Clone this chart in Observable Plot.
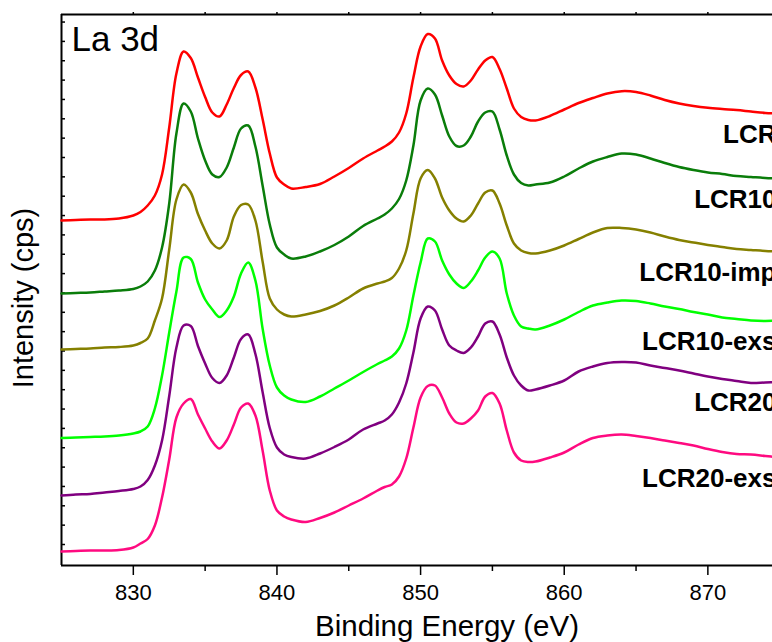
<!DOCTYPE html>
<html><head><meta charset="utf-8">
<script src="https://cdn.jsdelivr.net/npm/d3@7"></script>
<script src="https://cdn.jsdelivr.net/npm/@observablehq/plot@0.6"></script>
<style>body{margin:0;overflow:hidden;background:#fff}</style>
</head><body><div id="chart"></div>
<script>
// Binding energy grid (eV)
const energy = [825,826,827,828,829,830,830.5,831,831.5,832,832.5,833,833.5,834,834.5,835,835.5,836,836.5,837,837.5,838,838.5,839,839.5,840,840.5,841,842,843,844,845,846,847,847.5,848,848.5,849,849.5,850,850.5,851,851.5,852,852.5,853,853.5,854,854.5,855,855.5,856,856.5,857,857.5,858,859,860,861,862,863,864,865,866,867,868,869,870,871,872,873,874,875];

const samples = ["LCR", "LCR10", "LCR10-imp", "LCR10-exs", "LCR20", "LCR20-exs"];
const colors = ["#ff0000", "#0a7d0a", "#858000", "#00ff00", "#800080", "#ff0a80"];

// Offset-stacked intensities (arbitrary cps units)
const lcr = [345,345.5,346,346,347,350,353.5,360,370,391,438,492,514,507.5,488,468.5,453,449,461,477.5,490.5,494,478,446.5,412,388,381,377,378.5,381.5,389,397.5,407,415,419,424,433,452,488,519,531.5,527,505,490,481.5,479,485,496,505,508.5,496.5,477,457,448.5,445.5,445,449.5,456,462.5,467.5,472,474.3,473.5,470,465.5,462,459.5,457.7,456.5,455.5,454,452.6,452];
const lcr10 = [272,272.5,273,274,275,276.5,279,284,295,318,362,432,462,454,427,405,391,388.5,398,418,437,440,419,380,341,318,311,307,309,314,320.5,329,339.5,347,351,357,366.5,385,420,465,477,471,450,429,419.5,420,429,444,453,454,436,410,391,382.5,380,381,383,389,397,404,408.5,412,411,407,402.5,398.5,395.5,393,391.5,389.5,388.5,387.5,387];
const lcr10imp = [216,216.5,217,218,218.5,220,222.5,227,245,267,316,366,381,373,351.5,335,322,317,325,349,360.5,361,345,304,267,256,251,249,251,254.5,260,268,277,282,284,287.5,297,315,352,387,395.5,387,368,355,347,344,350,362,373,375,362,340,322,315,312.5,312,315,320,326.5,333,337.5,337.5,336,333,329,325.5,323,320.5,318.5,316.5,315.5,314.5,314];
const lcr10exs = [127.5,128,128.5,129,130,132,134,139,157,190,233,274,308,306.5,283,266,256,248.5,255,269,292,303,285,237,200,178,170,166,163.5,169,177,185,193.5,201.5,205,209,217,235,270,303,327,324,305,291,282,277.5,284,295,308,314,307,272,250,239,237,236,240,246,253.5,260,263,265,264.5,262,259,256.5,253.5,251,248,246.5,245,244.5,245];
const lcr20 = [70,71,71.5,73,74.5,76.5,79,85.5,100,125,169.5,218,240,239.5,219.5,202,187.5,182.5,190,208,226.5,231,211.5,173.5,137.5,118,111,108.5,107,112,118.5,126,136,142,145,151,163,182,213,247,259,255,236,220,215,212.5,218,229,242,244,231,208,190,180,175,176,180,185,194,199,202.5,203.5,203,200,197.5,195,192,189,186.5,184.5,182.5,183,183.5];
const lcr20exs = [14,14.5,15,15,15.5,18,22,26.5,40,68,106,148,162,166.5,151,137,124,117,125,141,158,162,150,115,75,55,49,46,43.5,47.5,53,60,67,75,78.5,81,89,107,138,168,179.5,180,168,152,143,142,147,155,169,172.5,162,135,113,105,103.5,104,108,113,121,127.5,130,131,129.5,127.5,125,122.5,120,116.5,113.5,111.5,111,109.5,108];

const xMajorTicks = [830, 840, 850, 860, 870];
const xMinorTicks = [835, 845, 855, 865];
const xDomain = [825, 874.5];
const yDomain = [0, 551];
const yTicks = d3.range(21, 551, 19.35);

const series = [lcr, lcr10, lcr10imp, lcr10exs, lcr20, lcr20exs];
const rows = samples.flatMap((s, i) => energy.map((e, j) => ({sample: s, energy: e, intensity: series[i][j]})));
const ends = samples.map((s, i) => ({sample: s, intensity: series[i][series[i].length - 1]}));

const plot = Plot.plot({
  width: 772, height: 642,
  marginLeft: 61, marginRight: 0, marginTop: 14, marginBottom: 77,
  style: {fontFamily: "'Liberation Sans', Arial, sans-serif", fontSize: "22px", color: "#000", background: "#fff"},
  x: {domain: xDomain},
  y: {domain: yDomain},
  color: {domain: samples, range: colors},
  marks: [
    Plot.axisX({ticks: xMajorTicks, tickSize: 10, tickPadding: 9, strokeWidth: 1.5, label: null, fontSize: 22}),
    Plot.axisX({ticks: xMinorTicks, tickSize: 6, tickFormat: () => "", strokeWidth: 1.5, label: null}),
    Plot.axisX({anchor: "top", ticks: [...xMajorTicks, ...xMinorTicks], tickSize: 3, tickFormat: () => "", strokeWidth: 1.5, label: null}),
    Plot.axisY({ticks: yTicks, tickSize: -4, tickFormat: () => "", strokeWidth: 1.5, label: null}),
    Plot.ruleX([xDomain[0]], {strokeWidth: 2}),
    Plot.ruleY(yDomain, {strokeWidth: 2}),
    Plot.line(rows, {x: "energy", y: "intensity", z: "sample", stroke: "sample", strokeWidth: 2.5, curve: "catmull-rom"}),
    Plot.text(ends, {y: "intensity", text: "sample", frameAnchor: "right", textAnchor: "end", lineAnchor: "bottom", dx: 4, dy: 29, fontSize: 26, fontWeight: "bold"}),
    Plot.text(["La 3d"], {text: d => d, frameAnchor: "top-left", textAnchor: "start", lineAnchor: "top", dx: 10, dy: 12, fontSize: 35}),
    Plot.text(["Intensity (cps)"], {text: d => d, frameAnchor: "left", textAnchor: "middle", rotate: -90, dx: -38, dy: 8, fontSize: 29}),
    Plot.text(["Binding Energy (eV)"], {text: d => d, frameAnchor: "bottom", textAnchor: "middle", lineAnchor: "bottom", dx: 30, dy: 70, fontSize: 29.5})
  ]
});
document.getElementById("chart").appendChild(plot);
</script>
</body></html>
